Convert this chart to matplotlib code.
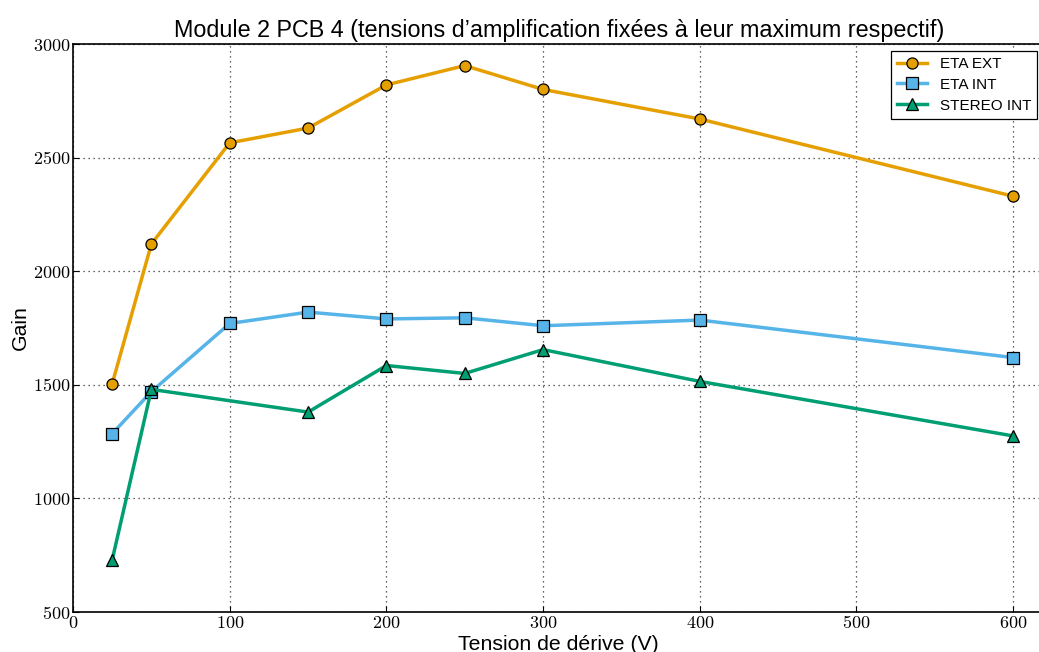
import numpy as np
import matplotlib
matplotlib.use("Agg")
import matplotlib.pyplot as plt

# Drift voltage scan, gain per readout layer
tension = [25, 50, 100, 150, 200, 250, 300, 400, 600]
eta_ext = [1505, 2120, 2565, 2630, 2820, 2905, 2800, 2670, 2330]
eta_int = [1285, 1470, 1770, 1820, 1790, 1795, 1760, 1785, 1620]
tension_stereo = [25, 50, 150, 200, 250, 300, 400, 600]
stereo_int = [730, 1480, 1380, 1585, 1550, 1655, 1515, 1275]

x_ticks = [0, 100, 200, 300, 400, 500, 600]
y_ticks = [500, 1000, 1500, 2000, 2500, 3000]

plt.rcParams["font.family"] = ["Liberation Sans", "DejaVu Sans"]
plt.rcParams["mathtext.fontset"] = "cm"

fig = plt.figure(figsize=(10.39, 6.52), dpi=100)
ax = fig.add_axes([0.0703, 0.0613, 0.935, 0.8712])

series = [
    (tension, eta_ext, "ETA EXT", "#E69F00", "o"),
    (tension, eta_int, "ETA INT", "#56B4E9", "s"),
    (tension_stereo, stereo_int, "STEREO INT", "#009E73", "^"),
]
for xs, ys, lab, col, mk in series:
    ax.plot(xs, ys, color=col, lw=2.5, marker=mk, ms=8,
            mfc=col, mec="black", mew=0.9, label=lab)

ax.set_xlim(0, 620)
ax.set_ylim(500, 3000)
ax.set_xticks(x_ticks)
ax.set_yticks(y_ticks)
ax.set_xticklabels([f"${v}$" for v in x_ticks], fontsize=13)
ax.set_yticklabels([f"${v}$" for v in y_ticks], fontsize=13)
ax.tick_params(direction="in", length=4, width=0.8, pad=2)
ax.grid(True, color="#333333", linestyle=(0, (1, 3)), linewidth=0.9)
for s in ax.spines.values():
    s.set_linewidth(1.2)

ax.set_title("Module 2 PCB 4 (tensions d\u2019amplification fix\u00e9es \u00e0 leur maximum respectif)",
             fontsize=16.8, pad=5)
ax.set_xlabel("Tension de d\u00e9rive (V)", fontsize=15.3, labelpad=2)
ax.set_ylabel("Gain", fontsize=15.3, labelpad=2)

leg = ax.legend(loc="upper right", bbox_to_anchor=(0.9925, 0.988), fontsize=11,
                fancybox=False, framealpha=1, edgecolor="black",
                handlelength=2.0, borderpad=0.4, labelspacing=0.45,
                borderaxespad=0)
leg.get_frame().set_linewidth(0.9)

fig.savefig("out.png", dpi=100)
